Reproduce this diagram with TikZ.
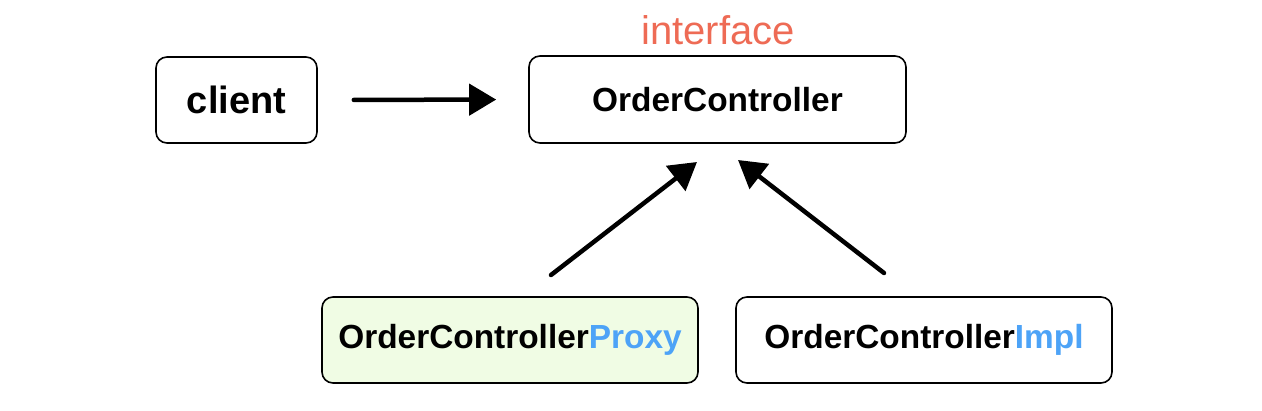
\documentclass[tikz,border=0pt]{standalone}
\usepackage{fontspec}
\setmainfont{Liberation Sans}
\usetikzlibrary{arrows.meta}
\definecolor{ifacecol}{HTML}{EE6B55}
\definecolor{bluecol}{HTML}{4DA3F7}
\definecolor{proxyfill}{HTML}{F0FCE4}
\tikzset{
  box/.style={draw=black, line width=1.6pt, rounded corners=11pt, inner sep=0pt, fill=white,
    font=\fontsize{33.4}{40}\selectfont\bfseries},
  conn/.style={line width=4.5pt, line cap=round, -{Triangle[length=27pt,width=31pt]}},
}
\begin{document}
\begin{tikzpicture}[x=1pt,y=-1pt]
\useasboundingbox (0,0) rectangle (1262,410);
\node[box, minimum width=161pt, minimum height=86pt, font=\fontsize{38}{45}\selectfont\bfseries] (client) at (236.5,100) {client};
\node[box, minimum width=377pt, minimum height=87pt] (oc) at (717.5,99.5) {OrderController};
\node[text=ifacecol, font=\fontsize{40}{48}\selectfont, inner sep=0pt, anchor=base] (iface) at (718,44) {interface};
\node[box, fill=proxyfill, minimum width=376pt, minimum height=86pt] (proxy) at (510,340) {OrderController\textcolor{bluecol}{Proxy}};
\node[box, minimum width=376pt, minimum height=86pt] (impl) at (924,340) {OrderController\textcolor{bluecol}{Impl}};
\coordinate (p1) at (551,275);
\coordinate (p2) at (697,162);
\coordinate (i1) at (884,273);
\coordinate (i2) at (738,160);
\draw[conn, shorten <=36pt, shorten >=32pt] (client.east) -- (oc.west);
\draw[conn] (p1) -- (p2);
\draw[conn] (i1) -- (i2);
\end{tikzpicture}
\end{document}
